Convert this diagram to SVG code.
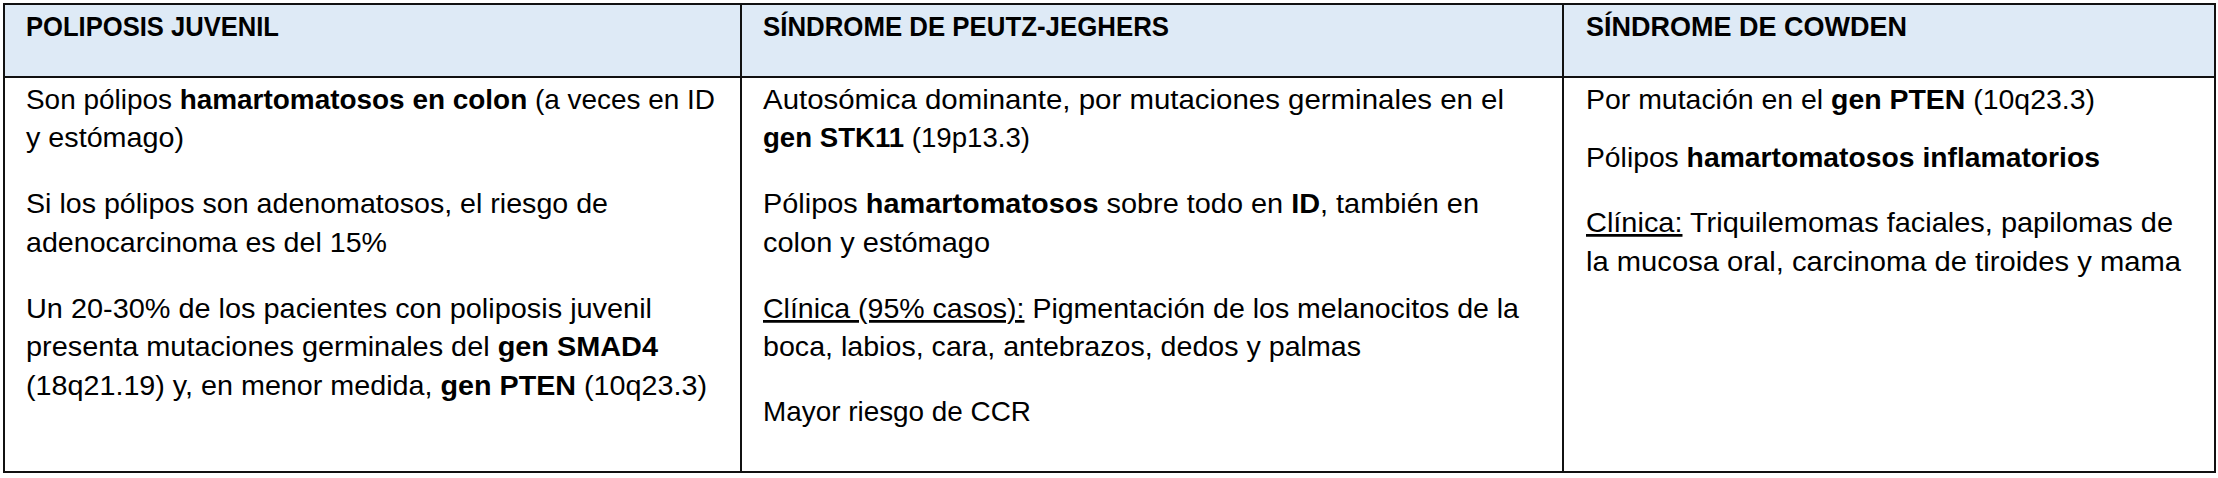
<svg xmlns="http://www.w3.org/2000/svg" width="2218" height="478" viewBox="0 0 2218 478">
<style>
  text { font-family: "Liberation Sans", Arial, sans-serif; font-size: 27.5px; fill: #000; }
  .h { font-weight: bold; font-size: 28px; }
  .b { font-weight: bold; }
  .u { text-decoration: underline; }
  .grid { stroke: #111; stroke-width: 2; fill: none; }
</style>
<rect x="0" y="0" width="2218" height="478" fill="#fff"/>
<g id="table">
  <rect x="4" y="4" width="2211" height="73" fill="#DEEAF6"/>
  <rect class="grid" x="4" y="4" width="2211" height="468"/>
  <line class="grid" x1="4" y1="77" x2="2215" y2="77"/>
  <line class="grid" x1="741" y1="4" x2="741" y2="472"/>
  <line class="grid" x1="1563" y1="4" x2="1563" y2="472"/>
</g>
<g id="col-juvenil">
  <text class="h" x="26" y="36" textLength="253" lengthAdjust="spacingAndGlyphs">POLIPOSIS JUVENIL</text>
  <text x="26" y="108.5" textLength="689" lengthAdjust="spacingAndGlyphs">Son pólipos <tspan class="b">hamartomatosos en colon</tspan> (a veces en ID</text>
  <text x="26" y="147" textLength="158" lengthAdjust="spacingAndGlyphs">y estómago)</text>
  <text x="26" y="213" textLength="582" lengthAdjust="spacingAndGlyphs">Si los pólipos son adenomatosos, el riesgo de</text>
  <text x="26" y="251.5" textLength="361" lengthAdjust="spacingAndGlyphs">adenocarcinoma es del 15%</text>
  <text x="26" y="318" textLength="626" lengthAdjust="spacingAndGlyphs">Un 20-30% de los pacientes con poliposis juvenil</text>
  <text x="26" y="356" textLength="632" lengthAdjust="spacingAndGlyphs">presenta mutaciones germinales del <tspan class="b">gen SMAD4</tspan></text>
  <text x="26" y="394.5" textLength="681" lengthAdjust="spacingAndGlyphs">(18q21.19) y, en menor medida, <tspan class="b">gen PTEN</tspan> (10q23.3)</text>
</g>
<g id="col-peutz-jeghers">
  <text class="h" x="763" y="36" textLength="406" lengthAdjust="spacingAndGlyphs">SÍNDROME DE PEUTZ-JEGHERS</text>
  <text x="763" y="108.5" textLength="741" lengthAdjust="spacingAndGlyphs">Autosómica dominante, por mutaciones germinales en el</text>
  <text x="763" y="147" textLength="267" lengthAdjust="spacingAndGlyphs"><tspan class="b">gen STK11</tspan> (19p13.3)</text>
  <text x="763" y="213" textLength="716" lengthAdjust="spacingAndGlyphs">Pólipos <tspan class="b">hamartomatosos</tspan> sobre todo en <tspan class="b">ID</tspan>, también en</text>
  <text x="763" y="251.5" textLength="227" lengthAdjust="spacingAndGlyphs">colon y estómago</text>
  <text x="763" y="318" textLength="756" lengthAdjust="spacingAndGlyphs"><tspan class="u">Clínica (95% casos):</tspan> Pigmentación de los melanocitos de la</text>
  <text x="763" y="356" textLength="598" lengthAdjust="spacingAndGlyphs">boca, labios, cara, antebrazos, dedos y palmas</text>
  <text x="763" y="421" textLength="268" lengthAdjust="spacingAndGlyphs">Mayor riesgo de CCR</text>
</g>
<g id="col-cowden">
  <text class="h" x="1586" y="36" textLength="321" lengthAdjust="spacingAndGlyphs">SÍNDROME DE COWDEN</text>
  <text x="1586" y="108.5" textLength="509" lengthAdjust="spacingAndGlyphs">Por mutación en el <tspan class="b">gen PTEN</tspan> (10q23.3)</text>
  <text x="1586" y="167" textLength="514" lengthAdjust="spacingAndGlyphs">Pólipos <tspan class="b">hamartomatosos inflamatorios</tspan></text>
  <text x="1586" y="232" textLength="587" lengthAdjust="spacingAndGlyphs"><tspan class="u">Clínica:</tspan> Triquilemomas faciales, papilomas de</text>
  <text x="1586" y="270.5" textLength="595" lengthAdjust="spacingAndGlyphs">la mucosa oral, carcinoma de tiroides y mama</text>
</g>
</svg>
